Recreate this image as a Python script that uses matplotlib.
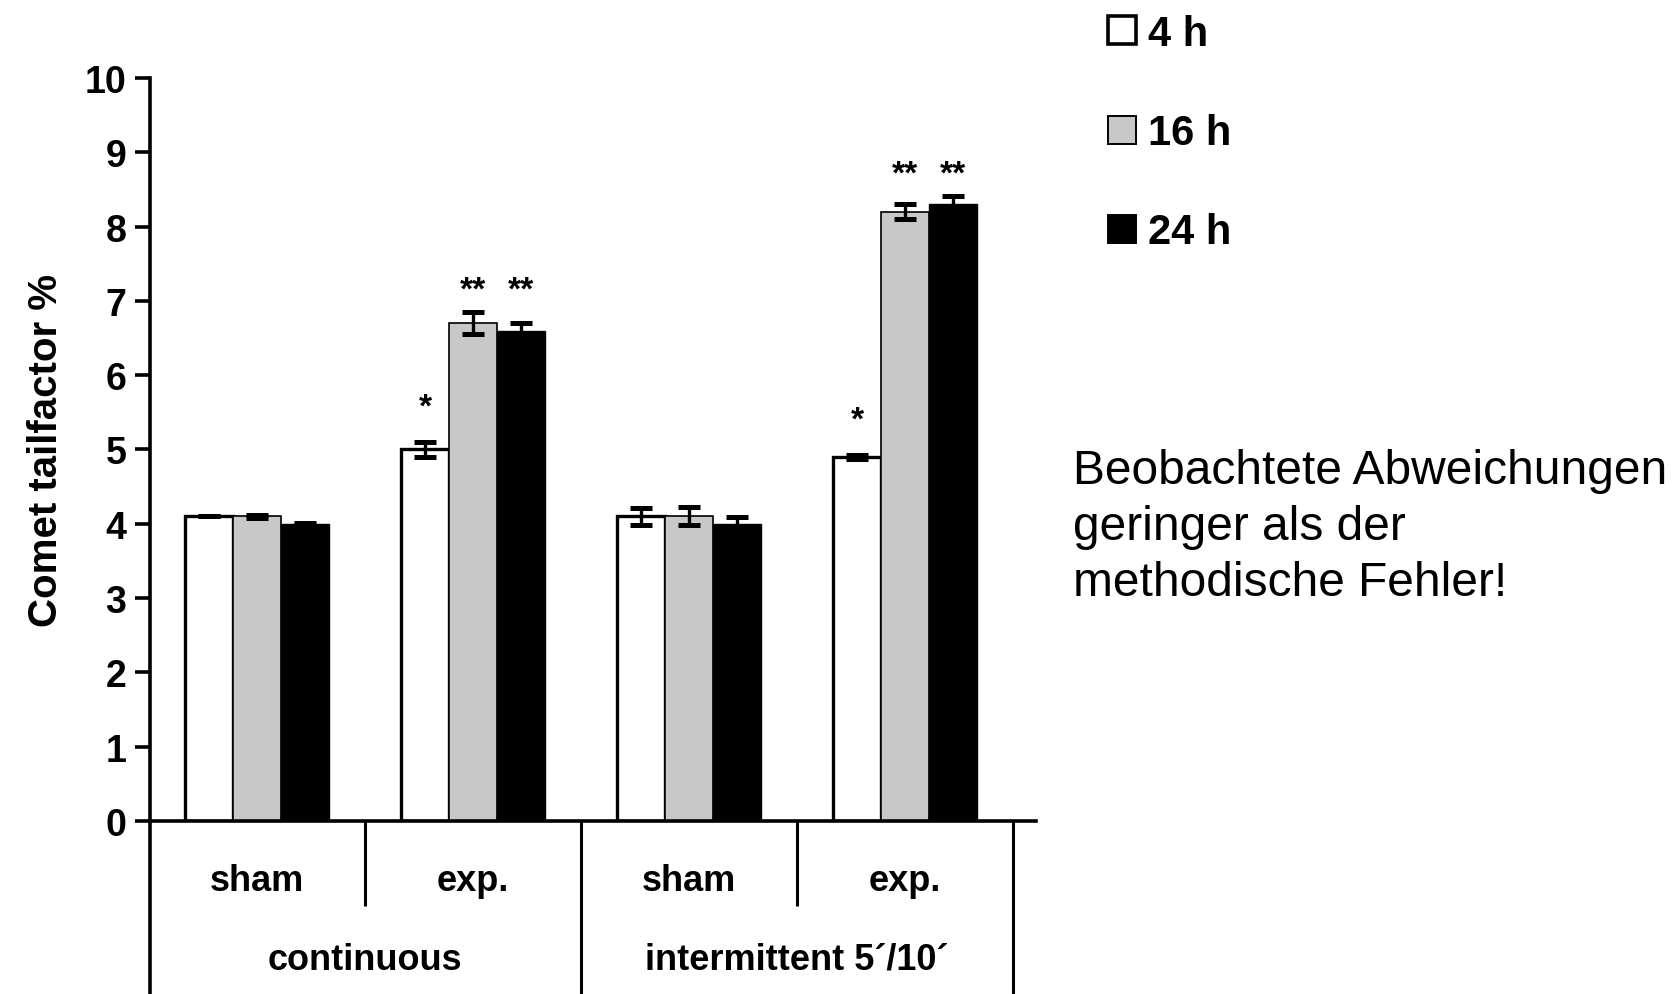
import matplotlib
matplotlib.use("Agg")
import numpy as np
import matplotlib.pyplot as plt
from matplotlib.patches import Patch

plt.rcParams['font.family'] = ['Liberation Sans', 'DejaVu Sans']

# --- Data ---
groups = ['sham', 'exp.', 'sham', 'exp.']
conditions = ['continuous', 'intermittent 5´/10´']
series = ['4 h', '16 h', '24 h']
vals_4h = [4.10, 5.00, 4.10, 4.90]
vals_16h = [4.10, 6.70, 4.10, 8.20]
vals_24h = [4.00, 6.60, 4.00, 8.30]
err_4h = [0.00, 0.10, 0.11, 0.03]
err_16h = [0.02, 0.15, 0.12, 0.10]
err_24h = [0.01, 0.10, 0.09, 0.11]
stars_4h = ['', '*', '', '*']
stars_16h = ['', '**', '', '**']
stars_24h = ['', '**', '', '**']
yticks = [0, 1, 2, 3, 4, 5, 6, 7, 8, 9, 10]
note = "Beobachtete Abweichungen\ngeringer als der\nmethodische Fehler!"

colors = ['#ffffff', '#c8c8c8', '#000000']
edge_w = [2.4, 1.2, 1.0]

fig = plt.figure(figsize=(16.79, 9.95), dpi=100)
ax = fig.add_axes([0.0893, 0.1739, 0.5277, 0.7467])

x = np.arange(len(groups))
w = 0.222
all_vals = [vals_4h, vals_16h, vals_24h]
all_err = [err_4h, err_16h, err_24h]
all_stars = [stars_4h, stars_16h, stars_24h]

for i, (v, e) in enumerate(zip(all_vals, all_err)):
    xs = x + (i - 1) * w
    ax.bar(xs, v, width=w, color=colors[i], edgecolor='black',
           linewidth=edge_w[i], zorder=2)
    ax.errorbar(xs, v, yerr=e, fmt='none', ecolor='black', elinewidth=2.4,
                capsize=8, capthick=3.6, zorder=3)

# significance marks: single star above its own bar,
# double stars on a common row above the taller of the 16 h / 24 h bars
tops = [np.array(v) + np.array(e) for v, e in zip(all_vals, all_err)]
for k in range(len(groups)):
    row = max(tops[1][k], tops[2][k]) + 0.30
    for i in range(3):
        s = all_stars[i][k]
        if not s:
            continue
        y = tops[i][k] + 0.47 if s == '*' else row
        ax.text(x[k] + (i - 1) * w, y, s, ha='center', va='center',
                fontsize=24, fontweight='bold')

ax.set_xlim(-0.495, 3.606)
ax.set_ylim(0, 10)
ax.set_yticks(yticks)
ax.set_xticks([])
ax.tick_params(axis='y', length=11, width=2.6, pad=6, labelsize=27)
for lab in ax.get_yticklabels():
    lab.set_fontweight('bold')

for side in ['top', 'right']:
    ax.spines[side].set_visible(False)
ax.spines['left'].set_linewidth(2.6)
ax.spines['bottom'].set_linewidth(2.6)

ax.set_ylabel('Comet tailfactor %', fontsize=29, fontweight='bold', labelpad=14)

# category table under the axis
tr = ax.get_xaxis_transform()
fig_bottom = -0.2330
short_end = -0.1144
ax.plot([-0.495, -0.495], [0, fig_bottom], transform=tr, color='black',
        lw=2.6, clip_on=False, solid_capstyle='butt')
for k in range(len(groups)):
    end = fig_bottom if k % 2 == 1 else short_end
    ax.plot([k + 0.5, k + 0.5], [0, end], transform=tr, color='black',
            lw=2.2, clip_on=False, solid_capstyle='butt')
    ax.text(k, -0.080, groups[k], transform=tr, ha='center', va='center',
            fontsize=26, fontweight='bold')
for j, cond in enumerate(conditions):
    ax.text(2 * j + 0.5, -0.186, cond, transform=tr, ha='center', va='center',
            fontsize=26, fontweight='bold')

# legend
handles = [Patch(facecolor=c, edgecolor='black', linewidth=2.6 if c == '#ffffff' else 1.4)
           for c in colors]
fig.legend(handles, series, loc='upper left', bbox_to_anchor=(1108 / 1679, 1 - 15 / 995),
           frameon=False, borderpad=0, borderaxespad=0, handlelength=0.66,
           handleheight=0.66, handletextpad=0.3, labelspacing=1.42,
           prop={'size': 30, 'weight': 'bold'})

fig.text(1073 / 1679, 1 - 596 / 995, note, ha='left', va='baseline',
         fontsize=34.5, linespacing=1.32)

fig.savefig('out.png', dpi=100, facecolor='white')
